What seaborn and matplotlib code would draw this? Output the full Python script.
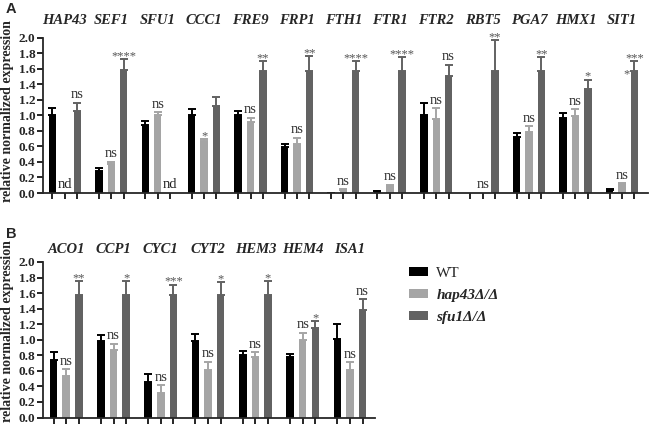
import matplotlib
matplotlib.use('Agg')
import numpy as np
import pandas as pd
import matplotlib.pyplot as plt
import matplotlib.transforms as mtransforms
from matplotlib.patches import Patch
import seaborn as sns

# ---- panel A data ----
genes_a = ['HAP43', 'SEF1', 'SFU1', 'CCC1', 'FRE9', 'FRP1', 'FTH1',
           'FTR1', 'FTR2', 'RBT5', 'PGA7', 'HMX1', 'SIT1']
wt_a = [1.01, 0.29, 0.87, 1.01, 1.01, 0.59, 0.01, 0.02, 1.01, 0.003, 0.72, 0.97, 0.04]
wt_a_err = [0.08, 0.03, 0.06, 0.07, 0.04, 0.04, 0.0, 0.01, 0.15, 0.0, 0.05, 0.06, 0.016]
hap43_a = [0.0, 0.37, 1.0, 0.665, 0.92, 0.635, 0.035, 0.085, 0.95, 0.003, 0.79, 0.99, 0.115]
hap43_a_err = [0.0, 0.03, 0.04, 0.03, 0.05, 0.075, 0.015, 0.022, 0.14, 0.0, 0.07, 0.09, 0.01]
sfu1_a = [1.05, 1.58, 0.0, 1.12, 1.57, 1.575, 1.57, 1.57, 1.50, 1.57, 1.57, 1.34, 1.57]
sfu1_a_err = [0.11, 0.14, 0.0, 0.12, 0.13, 0.185, 0.13, 0.18, 0.15, 0.40, 0.18, 0.12, 0.13]
hap43_a_sig = ['nd', 'ns', 'ns', '*', 'ns', 'ns', 'ns', 'ns', 'ns', 'ns', 'ns', 'ns', 'ns']
sfu1_a_sig = ['ns', '****', 'nd', '', '**', '**', '****', '****', 'ns', '**', '**', '*', '****']

# ---- panel B data ----
genes_b = ['ACO1', 'CCP1', 'CYC1', 'CYT2', 'HEM3', 'HEM4', 'ISA1']
wt_b = [0.74, 0.99, 0.46, 0.98, 0.81, 0.78, 1.01]
wt_b_err = [0.10, 0.075, 0.10, 0.09, 0.045, 0.04, 0.19]
hap43_b = [0.535, 0.87, 0.32, 0.61, 0.78, 1.0, 0.61]
hap43_b_err = [0.085, 0.075, 0.095, 0.11, 0.06, 0.09, 0.10]
sfu1_b = [1.57, 1.57, 1.57, 1.57, 1.57, 1.15, 1.38]
sfu1_b_err = [0.18, 0.18, 0.14, 0.17, 0.18, 0.09, 0.14]
hap43_b_sig = ['ns', 'ns', 'ns', 'ns', 'ns', 'ns', 'ns']
sfu1_b_sig = ['**', '*', '***', '*', '*', '*', 'ns']

strains = ['WT', 'hap43\u0394/\u0394', 'sfu1\u0394/\u0394']
palette = ['#000000', '#a5a5a5', '#626262']
yticks = np.round(np.arange(0, 2.01, 0.2), 1)

sns.set_style('ticks')
plt.rcParams['font.family'] = ['Liberation Serif', 'DejaVu Serif']
plt.rcParams['axes.linewidth'] = 1.3

SERIF = 'Liberation Serif'


def draw_panel(ax, genes, values, errors, sigs, xlim, label_y):
    """Grouped bars with one-sided error bars and significance marks"""
    frames = []
    for strain, vals in zip(strains, values):
        frames.append(pd.DataFrame({'gene': genes, 'strain': strain, 'value': vals}))
    df = pd.concat(frames, ignore_index=True)

    sns.barplot(data=df, x='gene', y='value', hue='strain', hue_order=strains,
                palette=palette, saturation=1, errorbar=None, width=0.8, gap=0.4,
                linewidth=0, legend=False, ax=ax)

    bar_containers = list(ax.containers)
    centers = []
    for k, container in enumerate(bar_containers):
        for j, bar in enumerate(container):
            x = bar.get_x() + bar.get_width() / 2
            h = bar.get_height()
            e = errors[k][j]
            centers.append(x)
            if e > 0:
                ax.errorbar(x, h, yerr=[[0], [e]], fmt='none', ecolor=palette[k],
                            elinewidth=1.4, capsize=2.6, capthick=1.4)
            if k == 0:
                continue
            s = sigs[k - 1][j]
            top = h + e
            if s == 'nd':
                ax.text(x, 0.03, 'nd', ha='center', va='bottom', fontsize=10.5,
                        color='#222222', family=SERIF)
            elif s == 'ns':
                ax.text(x, top + 0.02, 'ns', ha='center', va='bottom', fontsize=10.5,
                        color='#333333', family=SERIF)
            elif s and genes[j] == 'SIT1':
                # label wrapped in the original figure
                ax.text(x, top - 0.04, '***', ha='center', va='bottom', fontsize=9,
                        color='#555555', family=SERIF)
                ax.text(x - 0.17, h - 0.12, '*', ha='center', va='bottom', fontsize=9,
                        color='#555555', family=SERIF)
            elif s:
                ax.text(x, top - 0.04, s, ha='center', va='bottom', fontsize=9,
                        color='#555555', family=SERIF)

    trans = mtransforms.blended_transform_factory(ax.transData, ax.transAxes)
    for i, g in enumerate(genes):
        ax.text(i, label_y, g, transform=trans, ha='center', va='center',
                fontsize=10.5, fontweight='bold', fontstyle='italic', family=SERIF)

    ax.set_xticks(sorted(centers))
    ax.set_xticklabels([])
    ax.set_xlim(*xlim)
    ax.set_ylim(0, 2.0)
    ax.set_yticks(yticks)
    ax.set_yticklabels([f'{t:.1f}' for t in yticks], fontsize=9.5,
                       fontweight='bold', family=SERIF)
    ax.tick_params(axis='both', length=4, width=1.2, pad=1.5, color='black')
    ax.set_xlabel('')
    ax.set_ylabel('')
    sns.despine(ax=ax)


fig = plt.figure(figsize=(6.49, 4.29), dpi=100)
ax_a = fig.add_axes([0.0663, 0.550, 0.932, 0.3625])
ax_b = fig.add_axes([0.0663, 0.0268, 0.5116, 0.3625])

draw_panel(ax_a, genes_a, [wt_a, hap43_a, sfu1_a],
           [wt_a_err, hap43_a_err, sfu1_a_err], [hap43_a_sig, sfu1_a_sig],
           (-0.47, 12.56), 1.11)
draw_panel(ax_b, genes_b, [wt_b, hap43_b, sfu1_b],
           [wt_b_err, hap43_b_err, sfu1_b_err], [hap43_b_sig, sfu1_b_sig],
           (-0.49, 6.53), 1.08)

# y labels: A centred on its axes, B nudged up so it stays inside the figure
for yc in (0.741, 0.228):
    fig.text(0.011, yc, 'relative normalized expression',
             rotation=90, ha='center', va='center', fontsize=10,
             fontweight='bold', family=SERIF)

fig.text(0.009, 0.979, 'A', fontsize=10.5, fontweight='bold', family='Liberation Sans',
         ha='left', va='center')
fig.text(0.009, 0.455, 'B', fontsize=10.5, fontweight='bold', family='Liberation Sans',
         ha='left', va='center')

handles = [Patch(facecolor=c, edgecolor='none') for c in palette]
leg = fig.legend(handles, strains, loc='upper left', bbox_to_anchor=(0.630, 0.378),
                 frameon=False, handlelength=1.25, handleheight=0.5,
                 handletextpad=0.55, labelspacing=0.6, borderpad=0, borderaxespad=0,
                 prop={'family': SERIF, 'size': 11})
for k, t in enumerate(leg.get_texts()):
    if k > 0:
        t.set_fontstyle('italic')
        t.set_fontweight('bold')

fig.savefig('out.png', dpi=100)
